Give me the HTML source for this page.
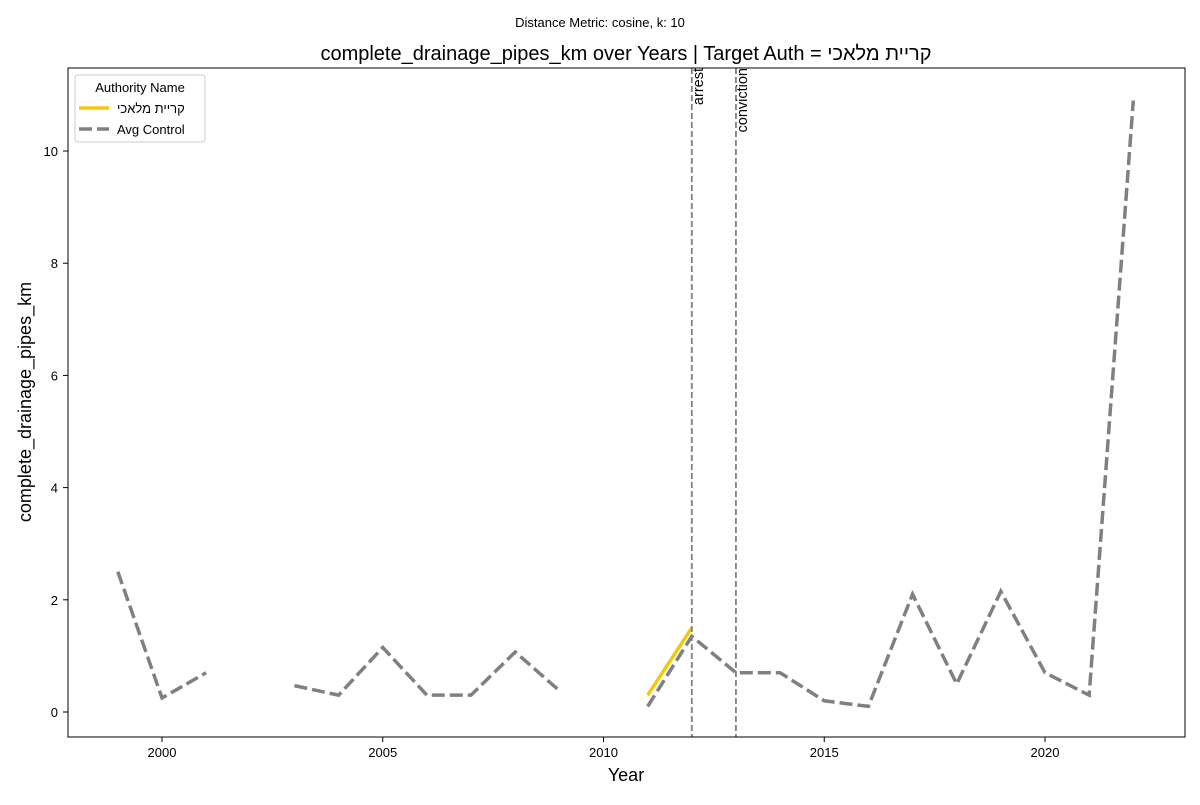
<!DOCTYPE html>
<html><head><meta charset="utf-8"><style>
body{margin:0;background:#fff;font-family:"Liberation Sans","DejaVu Sans",sans-serif;}
svg text{font-family:"Liberation Sans","DejaVu Sans",sans-serif;}
</style></head><body>
<svg id="chart" width="1200" height="800" xmlns="http://www.w3.org/2000/svg">
<rect width="1200" height="800" fill="#fff"/>
<text x="600" y="27" font-size="13" text-anchor="middle">Distance Metric: cosine, k: 10</text>
<text x="626" y="60" font-size="20" text-anchor="middle">complete_drainage_pipes_km over Years | Target Auth = קריית מלאכי</text>
<g id="plot"></g>
<rect x="68" y="68" width="1117" height="669" fill="none" stroke="#000" stroke-width="1"/>
<text x="626" y="781" font-size="18" text-anchor="middle">Year</text>
<text transform="translate(31,402) rotate(-90)" font-size="18" text-anchor="middle">complete_drainage_pipes_km</text>
<g>
<rect x="75" y="75" width="130" height="67" rx="3" fill="#fff" stroke="#ccc"/>
<text x="140" y="92" font-size="13" text-anchor="middle">Authority Name</text>
<line x1="79" y1="108" x2="109" y2="108" stroke="#f2c90f" stroke-width="3.5"/>
<text x="117" y="113" font-size="13">קריית מלאכי</text>
<line x1="79" y1="129" x2="109" y2="129" stroke="#808080" stroke-width="3.5" stroke-dasharray="13,5"/>
<text x="117" y="134" font-size="13">Avg Control</text>
</g>
</svg>
<script>
const years=[1999,2000,2001,2002,2003,2004,2005,2006,2007,2008,2009,2010,2011,2012,2013,2014,2015,2016,2017,2018,2019,2020,2021,2022];
const controlValues=[2.5,0.25,0.7,null,0.47,0.3,1.15,0.3,0.3,1.07,0.38,null,0.1,1.35,0.7,0.7,0.2,0.1,2.1,0.5,2.15,0.7,0.3,10.9];
const targetYears=[2011,2012];
const targetValues=[0.3,1.5];
const xTicks=[2000,2005,2010,2015,2020];
const yTicks=[0,2,4,6,8,10];
const events=[{year:2012,label:"arrest"},{year:2013,label:"conviction"}];
const X=y=>162+(y-2000)*44.15;
const Y=v=>712-v*56.1;
const NS="http://www.w3.org/2000/svg";
const g=document.getElementById('plot');
function mk(t,a){const e=document.createElementNS(NS,t);for(const k in a)e.setAttribute(k,a[k]);g.appendChild(e);return e;}
xTicks.forEach(t=>{
 const l=mk('line',{x1:X(t),x2:X(t),y1:737,y2:742,stroke:'#000'});
 
 
 const tx=mk('text',{x:X(t),y:757,'font-size':13,'text-anchor':'middle'});tx.textContent=t;
 
 
});
yTicks.forEach(t=>{
 const l=mk('line',{x1:63,x2:68,y1:Y(t),y2:Y(t),stroke:'#000'});
 
 
 const tx=mk('text',{x:58,y:Y(t)+5,'font-size':13,'text-anchor':'end'});tx.textContent=t;
 
 
});
let segs=[],cur=[];
years.forEach((y,i)=>{const v=controlValues[i];if(v===null){if(cur.length)segs.push(cur);cur=[];}else cur.push(X(y)+','+Y(v));});
if(cur.length)segs.push(cur);
segs.forEach(s=>{
 const p=mk('polyline',{points:s.join(' '),fill:'none',stroke:'#808080','stroke-width':3.5,'stroke-dasharray':'13,5'});
 
 
});
const tp=mk('polyline',{points:targetYears.map((y,i)=>X(y)+','+Y(targetValues[i])).join(' '),fill:'none',stroke:'#f2c90f','stroke-width':3.5});


events.forEach(e=>{
 const l=mk('line',{x1:X(e.year),x2:X(e.year),y1:68,y2:737,stroke:'#808080','stroke-width':1.8,'stroke-dasharray':'6,3'});
 
 
 const t=mk('text',{transform:`translate(${X(e.year)+11},68) rotate(-90)`,'font-size':14.5,'text-anchor':'end'});
 t.textContent=e.label;
 
 
});
</script>
</body></html>
